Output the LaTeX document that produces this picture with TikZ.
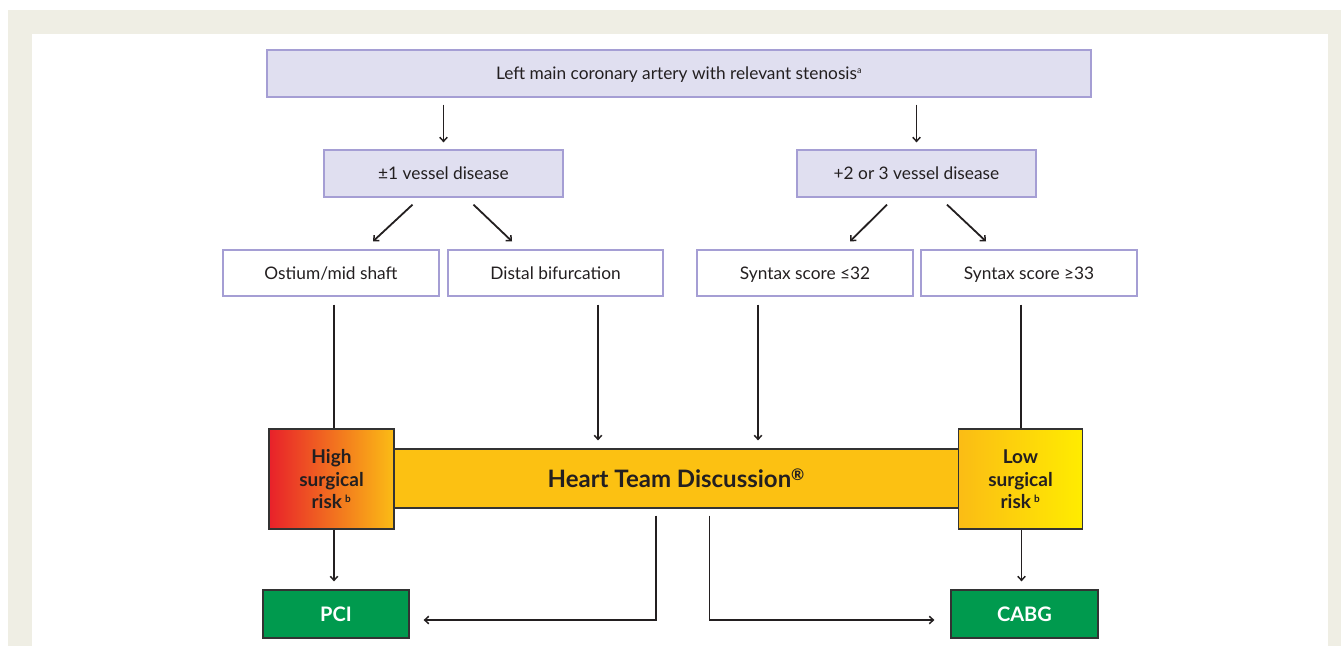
\documentclass[tikz,border=0pt]{standalone}
\usepackage{fontspec}
\setmainfont{Lato}
\usetikzlibrary{arrows.meta}
\definecolor{framec}{HTML}{EFEEE4}
\definecolor{lavfill}{HTML}{E0DFF0}
\definecolor{lavline}{HTML}{A59ED4}
\definecolor{txt}{HTML}{231F20}
\definecolor{heartc}{HTML}{FCC112}
\definecolor{redc}{HTML}{E8212A}
\definecolor{orc}{HTML}{FBBC15}
\definecolor{yelc}{HTML}{FFEC00}
\definecolor{greenc}{HTML}{009A4E}
\definecolor{darkline}{HTML}{333333}
\tikzset{
  lavbox/.style={draw=lavline, line width=1.3pt, fill=lavfill, inner sep=0pt,
    minimum height=47pt, text height=12.5pt, text depth=0pt, text=txt,
    font=\fontsize{17.3}{20}\selectfont},
  optbox/.style={draw=lavline, line width=1.3pt, fill=white, inner sep=0pt,
    minimum width=216pt, minimum height=46pt, text height=12.5pt, text depth=0pt, text=txt,
    font=\fontsize{17.3}{20}\selectfont},
  riskbox/.style={draw=darkline, line width=1.3pt, inner sep=0pt, minimum height=100pt,
    align=center, text=txt, font=\bfseries\fontsize{19}{22.5}\selectfont},
  treatbox/.style={draw=darkline, line width=1.3pt, fill=greenc, inner sep=0pt,
    minimum height=48pt, text height=14.5pt, text depth=0pt, text=white,
    font=\bfseries\fontsize{20}{22}\selectfont},
  arr/.style={draw=txt, line width=1.8pt, -{Straight Barb[length=4pt,width=7.5pt,line width=1.5pt]}},
  ln/.style={draw=txt, line width=1.8pt}
}
\begin{document}
\begin{tikzpicture}[x=1pt,y=-1pt]
\useasboundingbox (0,0) rectangle (1341,646);
\fill[white] (0,0) rectangle (1341,646);
\fill[framec] (8,10) rectangle (1341,646);
\fill[white] (32,34) rectangle (1328,646);

\node[lavbox, minimum width=824pt] (top) at (679,73.5)
  {Left main coronary artery with relevant stenosis\textsuperscript{\fontsize{9}{9}\selectfont a}};
\node[lavbox, minimum width=239pt] (v1) at (443.5,173.5) {±1 vessel disease};
\node[lavbox, minimum width=239pt] (v2) at (916.5,173.5) {+2 or 3 vessel disease};

\node[optbox] (os) at (331,273) {Ostium/mid shaft};
\node[optbox, minimum width=215pt] (db) at (555.5,273) {Distal bifurcation};
\node[optbox] (s1) at (805,273) {Syntax score ≤32};
\node[optbox] (s2) at (1029,273) {Syntax score ≥33};

\node[draw=darkline, line width=1.3pt, fill=heartc, inner sep=0pt, minimum width=566pt,
  minimum height=59pt, text height=18pt, text depth=0pt, text=txt,
  font=\bfseries\fontsize{24}{27}\selectfont] (heart) at (676,478.5)
  {Heart Team Discussion\raisebox{0.55ex}{\fontsize{16}{16}\selectfont ®}};
\node[riskbox, minimum width=125pt, left color=redc, right color=orc] (high) at (331.5,479)
  {\rule{0pt}{15pt}High\\surgical\\risk\,\textsuperscript{\fontsize{10}{10}\selectfont b}};
\node[riskbox, minimum width=124pt, left color=orc, right color=yelc] (low) at (1020.5,479)
  {\rule{0pt}{15pt}Low\\surgical\\risk\,\textsuperscript{\fontsize{10}{10}\selectfont b}};

\node[treatbox, minimum width=146pt] (pci) at (336,614) {PCI};
\node[treatbox, minimum width=147pt] (cabg) at (1024.5,614) {CABG};

% top to vessel boxes
\draw[arr] ([yshift=-7pt]top.south -| v1.north) -- ([yshift=7pt]v1.north);
\draw[arr] ([yshift=-7pt]top.south -| v2.north) -- ([yshift=7pt]v2.north);
% diagonals
\draw[arr] ([xshift=-31pt,yshift=-7pt]v1.south) -- ([xshift=42pt,yshift=8pt]os.north);
\draw[arr] ([xshift=30pt,yshift=-7pt]v1.south) -- ([xshift=-43.5pt,yshift=8pt]db.north);
\draw[arr] ([xshift=-29.5pt,yshift=-7pt]v2.south) -- ([xshift=45pt,yshift=8pt]s1.north);
\draw[arr] ([xshift=30.5pt,yshift=-7pt]v2.south) -- ([xshift=-43pt,yshift=8pt]s2.north);
% verticals
\coordinate (c1) at ([xshift=3pt,yshift=-8pt]os.south);
\draw[ln] (c1) -- (c1 |- high.north);
\coordinate (c2) at ([xshift=42.5pt,yshift=-8pt]db.south);
\draw[arr] (c2) -- ([yshift=8pt]c2 |- heart.north);
\coordinate (c3) at ([xshift=-47pt,yshift=-8pt]s1.south);
\draw[arr] (c3) -- ([yshift=8pt]c3 |- heart.north);
\coordinate (c4) at ([xshift=-8pt,yshift=-8pt]s2.south);
\draw[ln] (c4) -- (c4 |- low.north);
% to treatments
\coordinate (c5) at ([xshift=2.5pt]high.south);
\draw[arr] (c5) -- ([yshift=8pt]c5 |- pci.north);
\coordinate (c6) at ([xshift=1pt]low.south);
\draw[arr] (c6) -- ([yshift=8pt]c6 |- cabg.north);
\draw[arr] ([xshift=-20pt,yshift=-7pt]heart.south) |- ([xshift=14pt,yshift=-6pt]pci.east);
\draw[arr] ([xshift=33.5pt,yshift=-7pt]heart.south) |- ([xshift=-16pt,yshift=-6pt]cabg.west);
\end{tikzpicture}
\end{document}
